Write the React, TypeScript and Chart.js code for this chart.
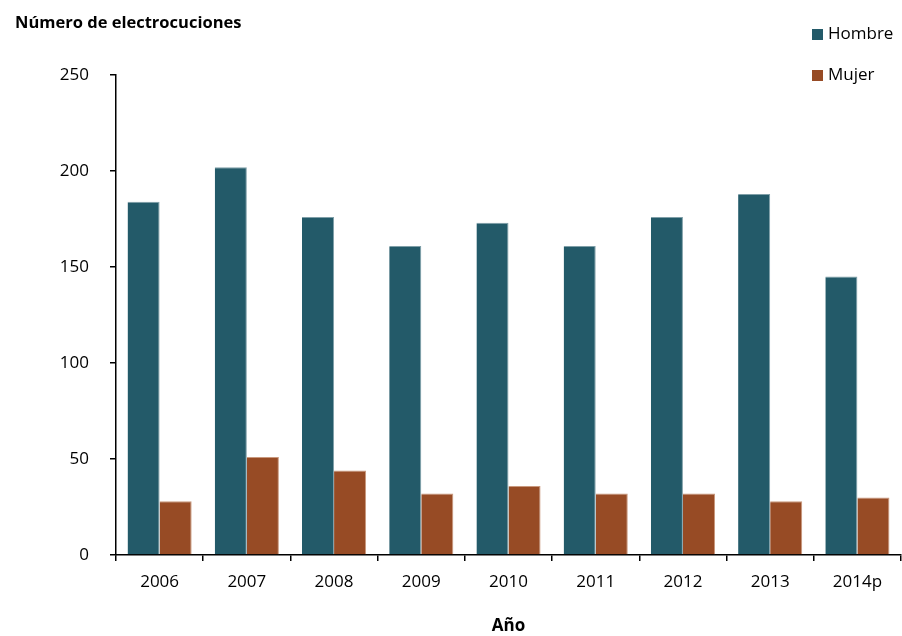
import React, { useEffect, useRef } from "react";
import { Chart, registerables } from "chart.js";

Chart.register(...registerables);

const categories = ["2006", "2007", "2008", "2009", "2010", "2011", "2012", "2013", "2014p"];
const hombreValues = [184, 202, 176, 161, 173, 161, 176, 188, 145];
const mujerValues = [28, 51, 44, 32, 36, 32, 32, 28, 30];
const seriesLabels = ["Hombre", "Mujer"];
const seriesColors = ["#235A69", "#974B25"];
const seriesEdges = ["#7f9fa8", "#c9987d"];
const yTitle = "Número de electrocuciones";
const xTitle = "Año";

const FONT = "'Open Sans', 'Noto Sans', sans-serif";

const overlayPlugin = {
  id: "overlay",
  afterDraw(chart: any) {
    const ctx = chart.ctx;
    ctx.save();
    ctx.fillStyle = "#000";
    ctx.font = `bold 16.5px ${FONT}`;
    ctx.textBaseline = "alphabetic";
    ctx.textAlign = "left";
    ctx.fillText(yTitle, 15, 28);
    const ds = chart.data.datasets;
    const baselines = [39, 80];
    const boxTops = [29, 70];
    ds.forEach((d: any, i: number) => {
      ctx.fillStyle = d.backgroundColor;
      ctx.fillRect(812, boxTops[i], 11, 11);
      ctx.fillStyle = "#000";
      ctx.font = `17px ${FONT}`;
      ctx.fillText(d.label, 828, baselines[i]);
    });
    ctx.restore();
  },
};

export default function App() {
  const ref = useRef<HTMLCanvasElement | null>(null);
  useEffect(() => {
    document.body.style.margin = "0";
    if (!ref.current) return;
    const chart = new Chart(ref.current, {
      type: "bar",
      data: {
        labels: categories,
        datasets: [
          {
            label: seriesLabels[0],
            data: hombreValues,
            backgroundColor: seriesColors[0],
            borderColor: seriesEdges[0],
            borderWidth: { top: 1, left: 0, right: 1, bottom: 0 },
            borderSkipped: "bottom",
          },
          {
            label: seriesLabels[1],
            data: mujerValues,
            backgroundColor: seriesColors[1],
            borderColor: seriesEdges[1],
            borderWidth: { top: 1, left: 0, right: 1, bottom: 0 },
            borderSkipped: "bottom",
          },
        ],
      },
      options: {
        animation: false,
        responsive: true,
        maintainAspectRatio: false,
        layout: { padding: { top: 75, left: 0, right: 1, bottom: 0 } },
        datasets: {
          bar: { categoryPercentage: 0.735, barPercentage: 1.0 },
        },
        plugins: {
          legend: { display: false },
          tooltip: { enabled: false },
          title: { display: false },
        },
        scales: {
          x: {
            offset: true,
            grid: {
              offset: true,
              drawOnChartArea: false,
              drawTicks: true,
              tickLength: 6,
              color: "#000",
              lineWidth: 1.5,
            },
            border: { display: true, color: "#000", width: 1.5 },
            ticks: {
              color: "#000",
              font: { family: FONT, size: 17 },
              padding: 11,
            },
            title: {
              display: true,
              text: xTitle,
              color: "#000",
              font: { family: FONT, size: 17, weight: "bold" },
              padding: { top: 0, bottom: 0 },
            },
            afterFit(scale: any) {
              scale.height = 81;
            },
          },
          y: {
            min: 0,
            max: 250,
            ticks: {
              stepSize: 50,
              color: "#000",
              font: { family: FONT, size: 17 },
              padding: 21,
            },
            grid: {
              drawOnChartArea: false,
              drawTicks: true,
              tickLength: 6,
              color: "#000",
              lineWidth: 1.5,
            },
            border: { display: true, color: "#000", width: 1.5 },
            afterFit(scale: any) {
              scale.width = 116;
            },
          },
        },
      },
      plugins: [overlayPlugin],
    });
    return () => chart.destroy();
  }, []);
  return (
    <div style={{ position: "relative", width: 902, height: 636, background: "#fff" }}>
      <canvas ref={ref} />
    </div>
  );
}
